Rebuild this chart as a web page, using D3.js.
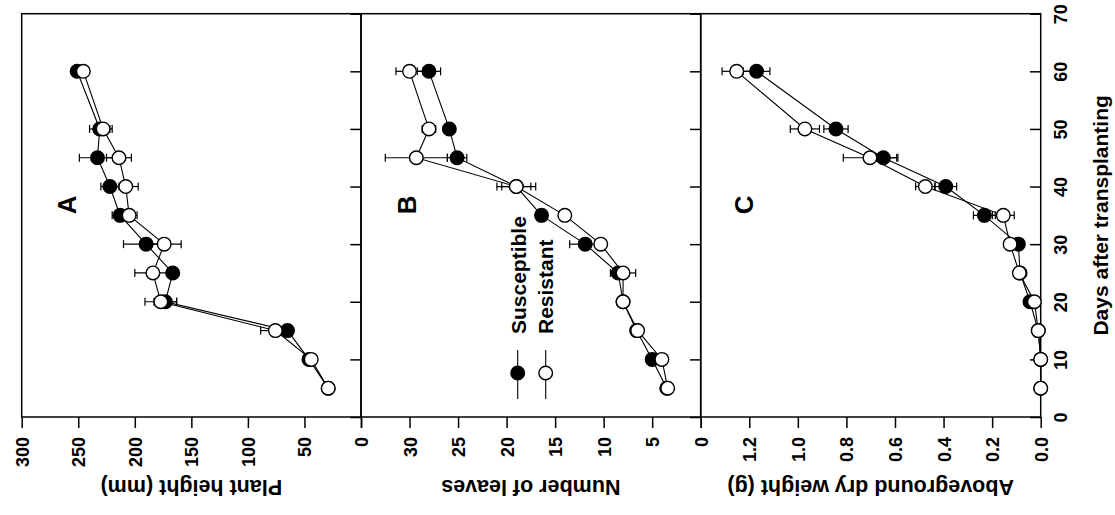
<!DOCTYPE html>
<html><head><meta charset="utf-8">
<script src="https://cdn.jsdelivr.net/npm/d3@7"></script>
<style>
body{margin:0;background:#fff}
text{font-family:"Liberation Sans",Arial,Helvetica,sans-serif;font-weight:bold;fill:#000}
</style>
</head><body><svg id="c" width="1115" height="515"></svg>
<script>
// ---- data ----
const days = [5,10,15,20,25,30,35,40,45,50,60];
const dayTicks = [0,10,20,30,40,50,60,70];
const heightSusceptible    = [29,46,65,173,166.5,190,213,222,233,231,251];
const heightSusceptibleErr = [0,0,0,10,3,20,7,8,16,9,0];
const heightResistant      = [29,44,75.7,177,184,174,205,208,214,228,245.5];
const heightResistantErr   = [0,0,13,14,16,15,7,11,11,8,0];
const leavesSusceptible    = [3.5,5.0,6.6,8.0,8.5,11.9,16.4,19.0,25.1,25.9,28.0];
const leavesSusceptibleErr = [0,0,0,0,0.5,1.6,0.3,2.0,1.0,0.3,1.2];
const leavesResistant      = [3.4,4.0,6.5,8.0,8.0,10.3,14.0,19.0,29.3,28.0,30.0];
const leavesResistantErr   = [0,0,0,0,1.3,0.3,0.3,1.5,3.2,0.7,1.4];
const weightSusceptible    = [0,0,0.01,0.044,0.085,0.092,0.232,0.391,0.648,0.843,1.17];
const weightSusceptibleErr = [0,0,0,0.005,0,0.01,0.045,0.045,0.06,0.05,0.055];
const weightResistant      = [0,0,0.01,0.026,0.088,0.126,0.154,0.475,0.703,0.971,1.252];
const weightResistantErr   = [0,0,0,0,0,0.01,0.045,0.04,0.11,0.06,0.06];
const heightTicks = [0,50,100,150,200,250,300];
const leavesTicks = [0,5,10,15,20,25,30,35];
const weightTicks = [0,0.2,0.4,0.6,0.8,1.0,1.2,1.4];
const panelLetters = ["A","B","C"];
const axisTitles = ["Plant height (mm)","Number of leaves","Aboveground dry weight (g)"];
const seriesNames = ["Susceptible","Resistant"];
const dayTitle = "Days after transplanting";

// ---- layout ----
const svg = d3.select("#c");
const TOP = 13.7, BOTTOM = 417;
const panelX = [[21.7,361],[361,700.7],[700.7,1040.7]];
const y = d3.scaleLinear().domain([0,70]).range([BOTTOM, TOP]);

const panels = [
  {ticks: heightTicks, max: 300, fmt: d=>String(d), hideMax:false,
   s: heightSusceptible, se: heightSusceptibleErr, r: heightResistant, re: heightResistantErr, letterVal: 260},
  {ticks: leavesTicks, max: 35, fmt: d=>String(d), hideMax:true,
   s: leavesSusceptible, se: leavesSusceptibleErr, r: leavesResistant, re: leavesResistantErr, letterVal: 30.3},
  {ticks: weightTicks, max: 1.4, fmt: d3.format(".1f"), hideMax:true,
   s: weightSusceptible, se: weightSusceptibleErr, r: weightResistant, re: weightResistantErr, letterVal: 1.22}
];

const R = 6.8;
panels.forEach((p, i) => {
  const [x0, x1] = panelX[i];
  const x = d3.scaleLinear().domain([0, p.max]).range([x1, x0]);
  const g = svg.append("g");

  // value axis (bottom)
  const ax = g.append("g").attr("transform", `translate(0,${BOTTOM})`)
    .call(d3.axisBottom(x).tickValues(p.ticks).tickSize(11)
      .tickFormat(d => (p.hideMax && d === p.max) ? "" : p.fmt(d)));
  ax.select(".domain").remove();
  ax.selectAll("line").attr("stroke","#000").attr("stroke-width",1.5);
  ax.selectAll("text").attr("x",0).attr("y",0).attr("dy","0.36em")
    .attr("transform","translate(0,20) rotate(-90)")
    .attr("text-anchor","end").style("font-size","18px");

  // day ticks (inward on right border)
  const dx = g.append("g").attr("transform", `translate(${x1},0)`)
    .call(d3.axisLeft(y).tickValues(dayTicks).tickSize(10.7).tickFormat(""));
  dx.select(".domain").remove();
  dx.selectAll("line").attr("stroke","#000").attr("stroke-width",1.5);

  // frame
  g.append("rect").attr("x",x0).attr("y",TOP).attr("width",x1-x0).attr("height",BOTTOM-TOP)
    .attr("fill","none").attr("stroke","#000").attr("stroke-width",1.5);

  // axis title (upside down)
  g.append("text").attr("transform",`translate(${(x0+x1)/2},480) rotate(180)`)
    .attr("text-anchor","middle").style("font-size","21.5px").text(axisTitles[i]);

  // panel letter
  g.append("text").attr("transform",`translate(${x(p.letterVal)+9},${y(36.8)}) rotate(-90)`)
    .attr("text-anchor","middle").style("font-size","26px").text(panelLetters[i]);

  const line = d3.line().x(d=>x(d.v)).y(d=>y(d.d));
  const sData = days.map((d,k)=>({d, v:p.s[k], e:p.se[k]}));
  const rData = days.map((d,k)=>({d, v:p.r[k], e:p.re[k]}));

  [sData, rData].forEach(data => {
    g.append("path").datum(data).attr("d",line).attr("fill","none")
      .attr("stroke","#000").attr("stroke-width",1.1);
  });
  [sData, rData].forEach(data => {
    const eb = g.append("g").attr("stroke","#000").attr("stroke-width",1.2);
    data.filter(d=>d.e>0).forEach(d => {
      const yy = y(d.d), xa = x(d.v - d.e), xb = x(d.v + d.e);
      eb.append("line").attr("x1",xa).attr("x2",xb).attr("y1",yy).attr("y2",yy);
      eb.append("line").attr("x1",xa).attr("x2",xa).attr("y1",yy-4).attr("y2",yy+4);
      eb.append("line").attr("x1",xb).attr("x2",xb).attr("y1",yy-4).attr("y2",yy+4);
    });
  });
  g.append("g").selectAll("circle").data(sData).join("circle")
    .attr("cx",d=>x(d.v)).attr("cy",d=>y(d.d)).attr("r",R)
    .attr("fill","#000").attr("stroke","#000").attr("stroke-width",1.4);
  g.append("g").selectAll("circle").data(rData).join("circle")
    .attr("cx",d=>x(d.v)).attr("cy",d=>y(d.d)).attr("r",R)
    .attr("fill","#fff").attr("stroke","#000").attr("stroke-width",1.4);

  if (i === 2) {
    const dl = g.append("g").attr("transform", `translate(${x1},0)`)
      .call(d3.axisRight(y).tickValues(dayTicks).tickSize(0));
    dl.select(".domain").remove();
    dl.selectAll("text").attr("x",0).attr("y",0).attr("dy","0.36em")
      .attr("transform","translate(19.5,0) rotate(-90)")
      .attr("text-anchor","middle").style("font-size","18px");
    g.append("text").attr("transform",`translate(1108,${(TOP+BOTTOM)/2}) rotate(-90)`)
      .attr("text-anchor","middle").style("font-size","21px").text(dayTitle);
  }

  if (i === 1) {
    const lg = g.append("g");
    const legX = [517.7, 545.7], legTextBase = [525.5, 553];
    seriesNames.forEach((name, k) => {
      lg.append("line").attr("x1",legX[k]).attr("x2",legX[k]).attr("y1",350).attr("y2",399)
        .attr("stroke","#000").attr("stroke-width",1.1);
      lg.append("circle").attr("cx",legX[k]).attr("cy",373).attr("r",R)
        .attr("fill", k===0 ? "#000" : "#fff").attr("stroke","#000").attr("stroke-width",1.4);
      lg.append("text").attr("transform",`translate(${legTextBase[k]},334) rotate(-90)`)
        .attr("text-anchor","start").style("font-size","21px").text(name);
    });
  }
});
</script>
</body></html>
